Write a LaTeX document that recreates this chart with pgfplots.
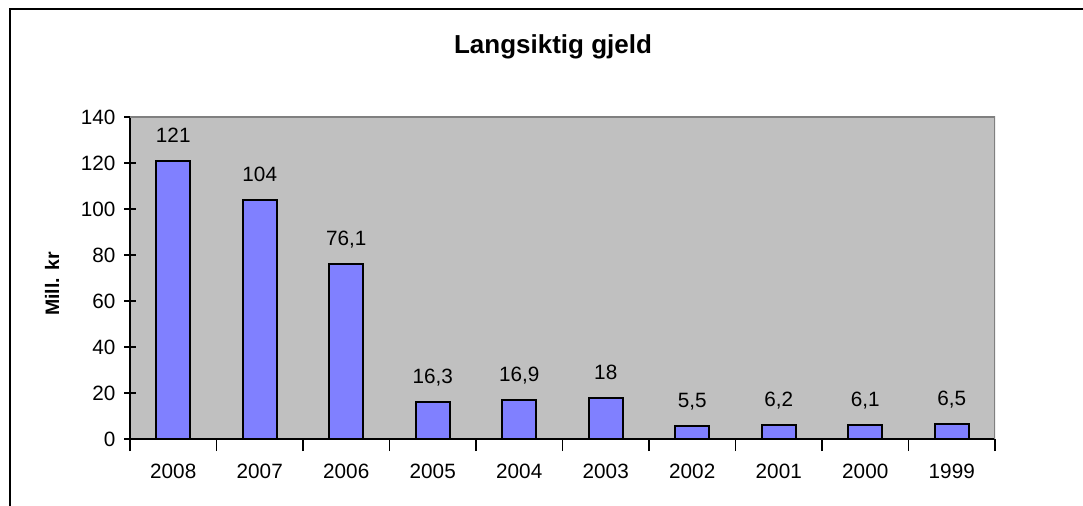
\documentclass[border=0pt]{standalone}
\usepackage{fontspec}
\setmainfont{Liberation Sans}
\usepackage{pgfplots}
\pgfplotsset{compat=1.18}
\definecolor{plotgray}{HTML}{C0C0C0}
\definecolor{borderg}{HTML}{808080}
\definecolor{barblue}{HTML}{8080FF}
\begin{document}
\begin{tikzpicture}
\useasboundingbox (0,0) rectangle (1083bp,506bp);
\draw[line width=2bp] (9.5bp,-2bp) -- (9.5bp,496.5bp) -- (1085bp,496.5bp);
\node[font=\fontsize{26bp}{30bp}\selectfont\bfseries] at (553bp,459bp) {Langsiktig gjeld};
\node[font=\fontsize{19.5bp}{24bp}\selectfont\bfseries, rotate=90] at (52bp,222bp) {Mill. kr};
\begin{axis}[
  at={(130bp,67bp)}, anchor=south west,
  scale only axis, width=865bp, height=322bp,
  xmin=-0.5, xmax=9.5, ymin=0, ymax=140,
  ytick={0,20,...,140},
  xtick={-0.5,0.5,...,9.5},
  xticklabels={2008,2007,2006,2005,2004,2003,2002,2001,2000,1999},
  x tick label as interval,
  tick align=center,
  major tick length=12bp,
  xtick style={draw=black, line width=1.5bp},
  ytick style={draw=black, line width=1.5bp},
  axis x line*=bottom, axis y line*=left,
  axis line style={line width=1.5bp, black, -},
  axis background/.style={fill=plotgray},
  ticklabel style={font=\fontsize{20.7bp}{24bp}\selectfont},
  xticklabel style={yshift=-10bp},
  yticklabel style={xshift=-5bp},
  /pgf/number format/.cd, use comma, 1000 sep={}, assume math mode=true,
  /pgfplots/.cd,
  ybar, bar width=34bp, bar shift=0pt,
  nodes near coords,
  nodes near coords style={font=\fontsize{20.7bp}{24bp}\selectfont, anchor=base, yshift=18.5bp, inner sep=0pt},
]
\addplot[fill=barblue, draw=black, line width=2bp] coordinates {
 (0,121) (1,104) (2,76.1) (3,16.3) (4,16.9) (5,18) (6,5.5) (7,6.2) (8,6.1) (9,6.5)};
\draw[borderg, line width=2bp] (rel axis cs:0,1) -- (rel axis cs:1,1) -- (rel axis cs:1,0);
\end{axis}
\end{tikzpicture}
\end{document}
